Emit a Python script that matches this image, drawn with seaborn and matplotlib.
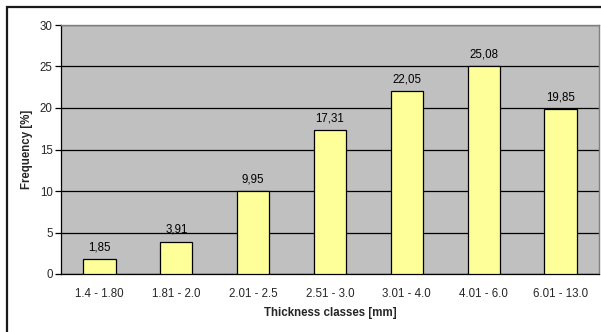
import matplotlib
matplotlib.use("Agg")
import matplotlib.pyplot as plt
from matplotlib.patches import Rectangle
import seaborn as sns
import pandas as pd

categories = ["1.4 - 1.80", "1.81 - 2.0", "2.01 - 2.5", "2.51 - 3.0",
              "3.01 - 4.0", "4.01 - 6.0", "6.01 - 13.0"]
frequency = [1.85, 3.91, 9.95, 17.31, 22.05, 25.08, 19.85]
yticks = [0, 5, 10, 15, 20, 25, 30]

sns.set_theme(style="white")
plt.rcParams["font.family"] = ["Liberation Sans", "DejaVu Sans"]

FS = 8.3
W, H = 601, 332
fig = plt.figure(figsize=(W / 100, H / 100), dpi=100)
fig.patch.set_facecolor("white")

# outer chart frame
fig.patches.append(Rectangle((7 / W, -0.05), 1.05, (H - 6.5) / H + 0.05,
                             transform=fig.transFigure, fill=False,
                             edgecolor="#1a1a1a", linewidth=1.6, zorder=0))

left, right, top, bottom = 61, 599, 25, 274
ax = fig.add_axes([left / W, 1 - bottom / H, (right - left) / W, (bottom - top) / H])
ax.set_facecolor("#C0C0C0")

df = pd.DataFrame({"cls": categories, "freq": frequency})
sns.barplot(data=df, x="cls", y="freq", ax=ax, color="#FFFF99",
            edgecolor="black", linewidth=0.9, width=0.42, saturation=1, zorder=3)

ax.set_ylim(0, 30)
ax.set_xlim(-0.5, len(categories) - 0.5)
ax.set_yticks(yticks)
ax.set_yticklabels([str(v) for v in yticks], fontsize=FS)
ax.yaxis.grid(True, color="black", linewidth=0.9, zorder=1)
ax.set_axisbelow(True)

ax.set_xticks(range(len(categories)))
ax.set_xticklabels(categories, fontsize=FS)
ax.set_xticks([i - 0.5 for i in range(len(categories) + 1)], minor=True)
ax.tick_params(axis="x", which="major", length=0, pad=10)
ax.tick_params(axis="x", which="minor", length=4, width=0.9, color="black", direction="out")
ax.tick_params(axis="y", length=4, width=0.9, color="black", direction="out", pad=2, left=True)

for side in ("top", "right"):
    ax.spines[side].set_color("#808080")
    ax.spines[side].set_linewidth(1.0)
for side in ("left", "bottom"):
    ax.spines[side].set_color("black")
    ax.spines[side].set_linewidth(0.9)
    ax.spines[side].set_visible(True)

for i, v in enumerate(frequency):
    ax.annotate(f"{v:.2f}".replace(".", ","), (i, v), xytext=(0, 4),
                textcoords="offset points", ha="center", va="bottom",
                fontsize=FS, color="black")

ax.set_xlabel("Thickness classes [mm]", fontsize=FS, fontweight="bold")
ax.set_ylabel("Frequency [%]", fontsize=FS, fontweight="bold")
ax.xaxis.set_label_coords(0.5, -(313 - bottom) / (bottom - top), transform=ax.transAxes)
ax.yaxis.set_label_coords(-(left - 27.5) / (right - left), 0.5, transform=ax.transAxes)
ax.xaxis.label.set_va("center")
ax.yaxis.label.set_va("center")

fig.savefig("out.png", dpi=100)
